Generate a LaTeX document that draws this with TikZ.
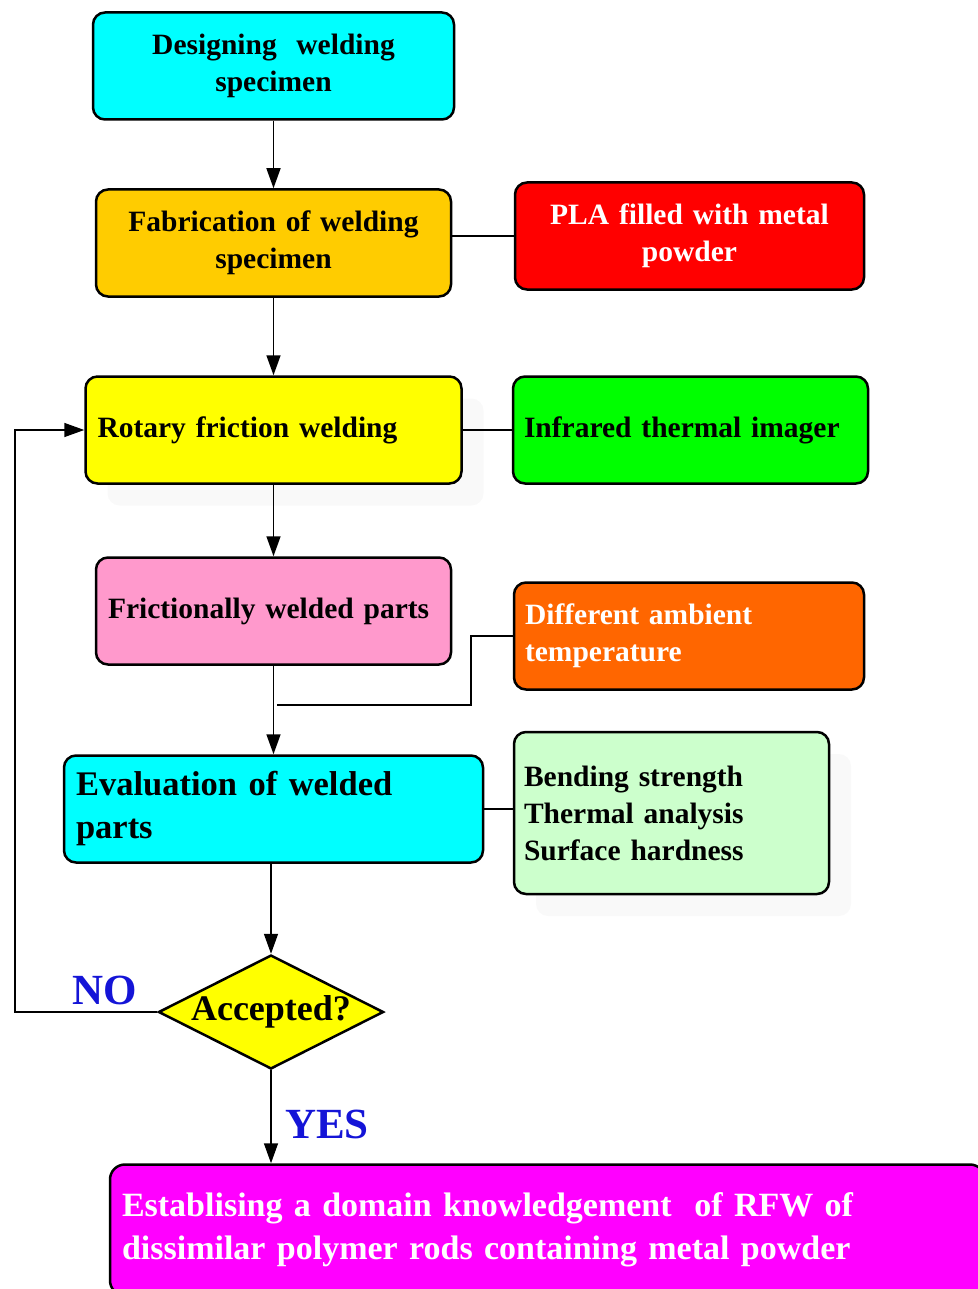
\documentclass[tikz,border=0pt]{standalone}
\usepackage{fontspec}
\setmainfont{Liberation Serif}
\usepackage{tikz}
\usetikzlibrary{arrows.meta,positioning,shapes.geometric,shadows}

\definecolor{boxcyan}{RGB}{0,255,255}
\definecolor{boxamber}{RGB}{255,204,0}
\definecolor{boxred}{RGB}{255,0,0}
\definecolor{boxyellow}{RGB}{255,255,0}
\definecolor{boxgreen}{RGB}{0,255,0}
\definecolor{boxpink}{RGB}{255,153,204}
\definecolor{boxorange}{RGB}{255,102,0}
\definecolor{boxmint}{RGB}{204,255,204}
\definecolor{boxmagenta}{RGB}{255,0,255}
\definecolor{answerblue}{RGB}{20,20,215}

\tikzset{
  arr/.style={line width=1.5pt,-{Triangle[length=20pt,width=14pt]}},
  link/.style={line width=1.5pt},
  softshadow/.style={drop shadow={shadow xshift=22pt,shadow yshift=-22pt,fill=black!2.5,opacity=1}},
}

\begin{document}
\begin{tikzpicture}[x=1pt,y=-1pt]%
  \useasboundingbox (0,0) rectangle (977,1289);
  \begin{scope}[font={\bfseries\fontsize{29.5pt}{37pt}\selectfont}]%
  \tikzstyle{every node}=[draw,line width=2.5pt,rounded corners=12pt,inner sep=0pt,minimum height=107pt] %%
  % main column
  \node[fill=boxcyan,minimum width=361pt,text width=337pt,align=center] (design) at (273.5,66) {Designing~ welding\\specimen}; %%
  \node[fill=boxamber,minimum width=355pt,text width=331pt,align=center] (fab) at (273.5,243) {Fabrication of welding\\specimen}; %%
  \node[fill=boxyellow,softshadow,minimum width=376pt,text width=352pt,align=left] (rfw) at (273.5,430) {Rotary friction welding}; %%
  \node[fill=boxpink,minimum width=355pt,text width=331pt,align=left] (parts) at (273.5,611) {Frictionally welded parts}; %%
  \node[fill=boxcyan,minimum width=419pt,text width=395pt,align=left,font={\bfseries\fontsize{34.5pt}{43pt}\selectfont}] (eval) at (273.5,809) {Evaluation of welded\\parts}; %%
  % side boxes
  \node[fill=boxred,text=white,minimum width=349pt,text width=325pt,align=center] (pla) at (689.5,236) {PLA filled with metal\\powder}; %%
  \node[fill=boxgreen,minimum width=355pt,text width=333pt,align=left] (ir) at (690.5,430) {Infrared thermal imager}; %%
  \node[fill=boxorange,text=white,minimum width=350pt,text width=328pt,align=left] (ambient) at (689,636) {Different ambient\\temperature}; %%
  \node[fill=boxmint,softshadow,minimum width=315pt,minimum height=162pt,text width=295pt,align=left] (tests) at (671.5,813) {Bending strength\\Thermal analysis\\Surface hardness}; %%
  % decision and result
  \node[fill=boxyellow,shape=diamond,rounded corners=0pt,aspect=1.97,minimum width=225pt,minimum height=114pt,font={\bfseries\fontsize{36pt}{40pt}\selectfont}] (accept) at (271,1012) {Accepted?}; %%
  \node[fill=boxmagenta,text=white,rounded corners=15pt,minimum width=875pt,minimum height=131pt,text width=851pt,align=left,font={\bfseries\fontsize{34pt}{43pt}\selectfont}] (result) at (547.5,1230) {Establising a domain knowledgement~ of RFW of\\dissimilar polymer rods containing metal powder}; %%
  \end{scope}
  % connectors
  \draw[arr] (design)--(fab); %%
  \draw[arr] (fab)--(rfw); %%
  \draw[arr] (rfw)--(parts); %%
  \draw[arr] (parts)--(eval); %%
  \draw[arr] (eval.south -| accept.north)--(accept.north); %%
  \draw[arr] (accept.south)--(accept.south |- result.north); %%
  \draw[link] (fab.east |- pla.west)--(pla.west); %%
  \draw[link] (rfw)--(ir); %%
  \draw[link] (eval.east)--(eval.east -| tests.west); %%
  \coordinate (join) at (277,705); %%
  \draw[link] (ambient.west)--++(-42,0) |- (join); %%
  \coordinate (back) at (15,1012); %%
  \draw[arr] (accept.west)--(back) |- (rfw.west); %%
  % answers
  \node[text=answerblue,font={\bfseries\fontsize{43pt}{43pt}\selectfont}] (no) at (105,990) {NO}; %%
  \node[text=answerblue,font={\bfseries\fontsize{43pt}{43pt}\selectfont}] (yes) at (327,1124) {YES}; %%
\end{tikzpicture}
\end{document}
